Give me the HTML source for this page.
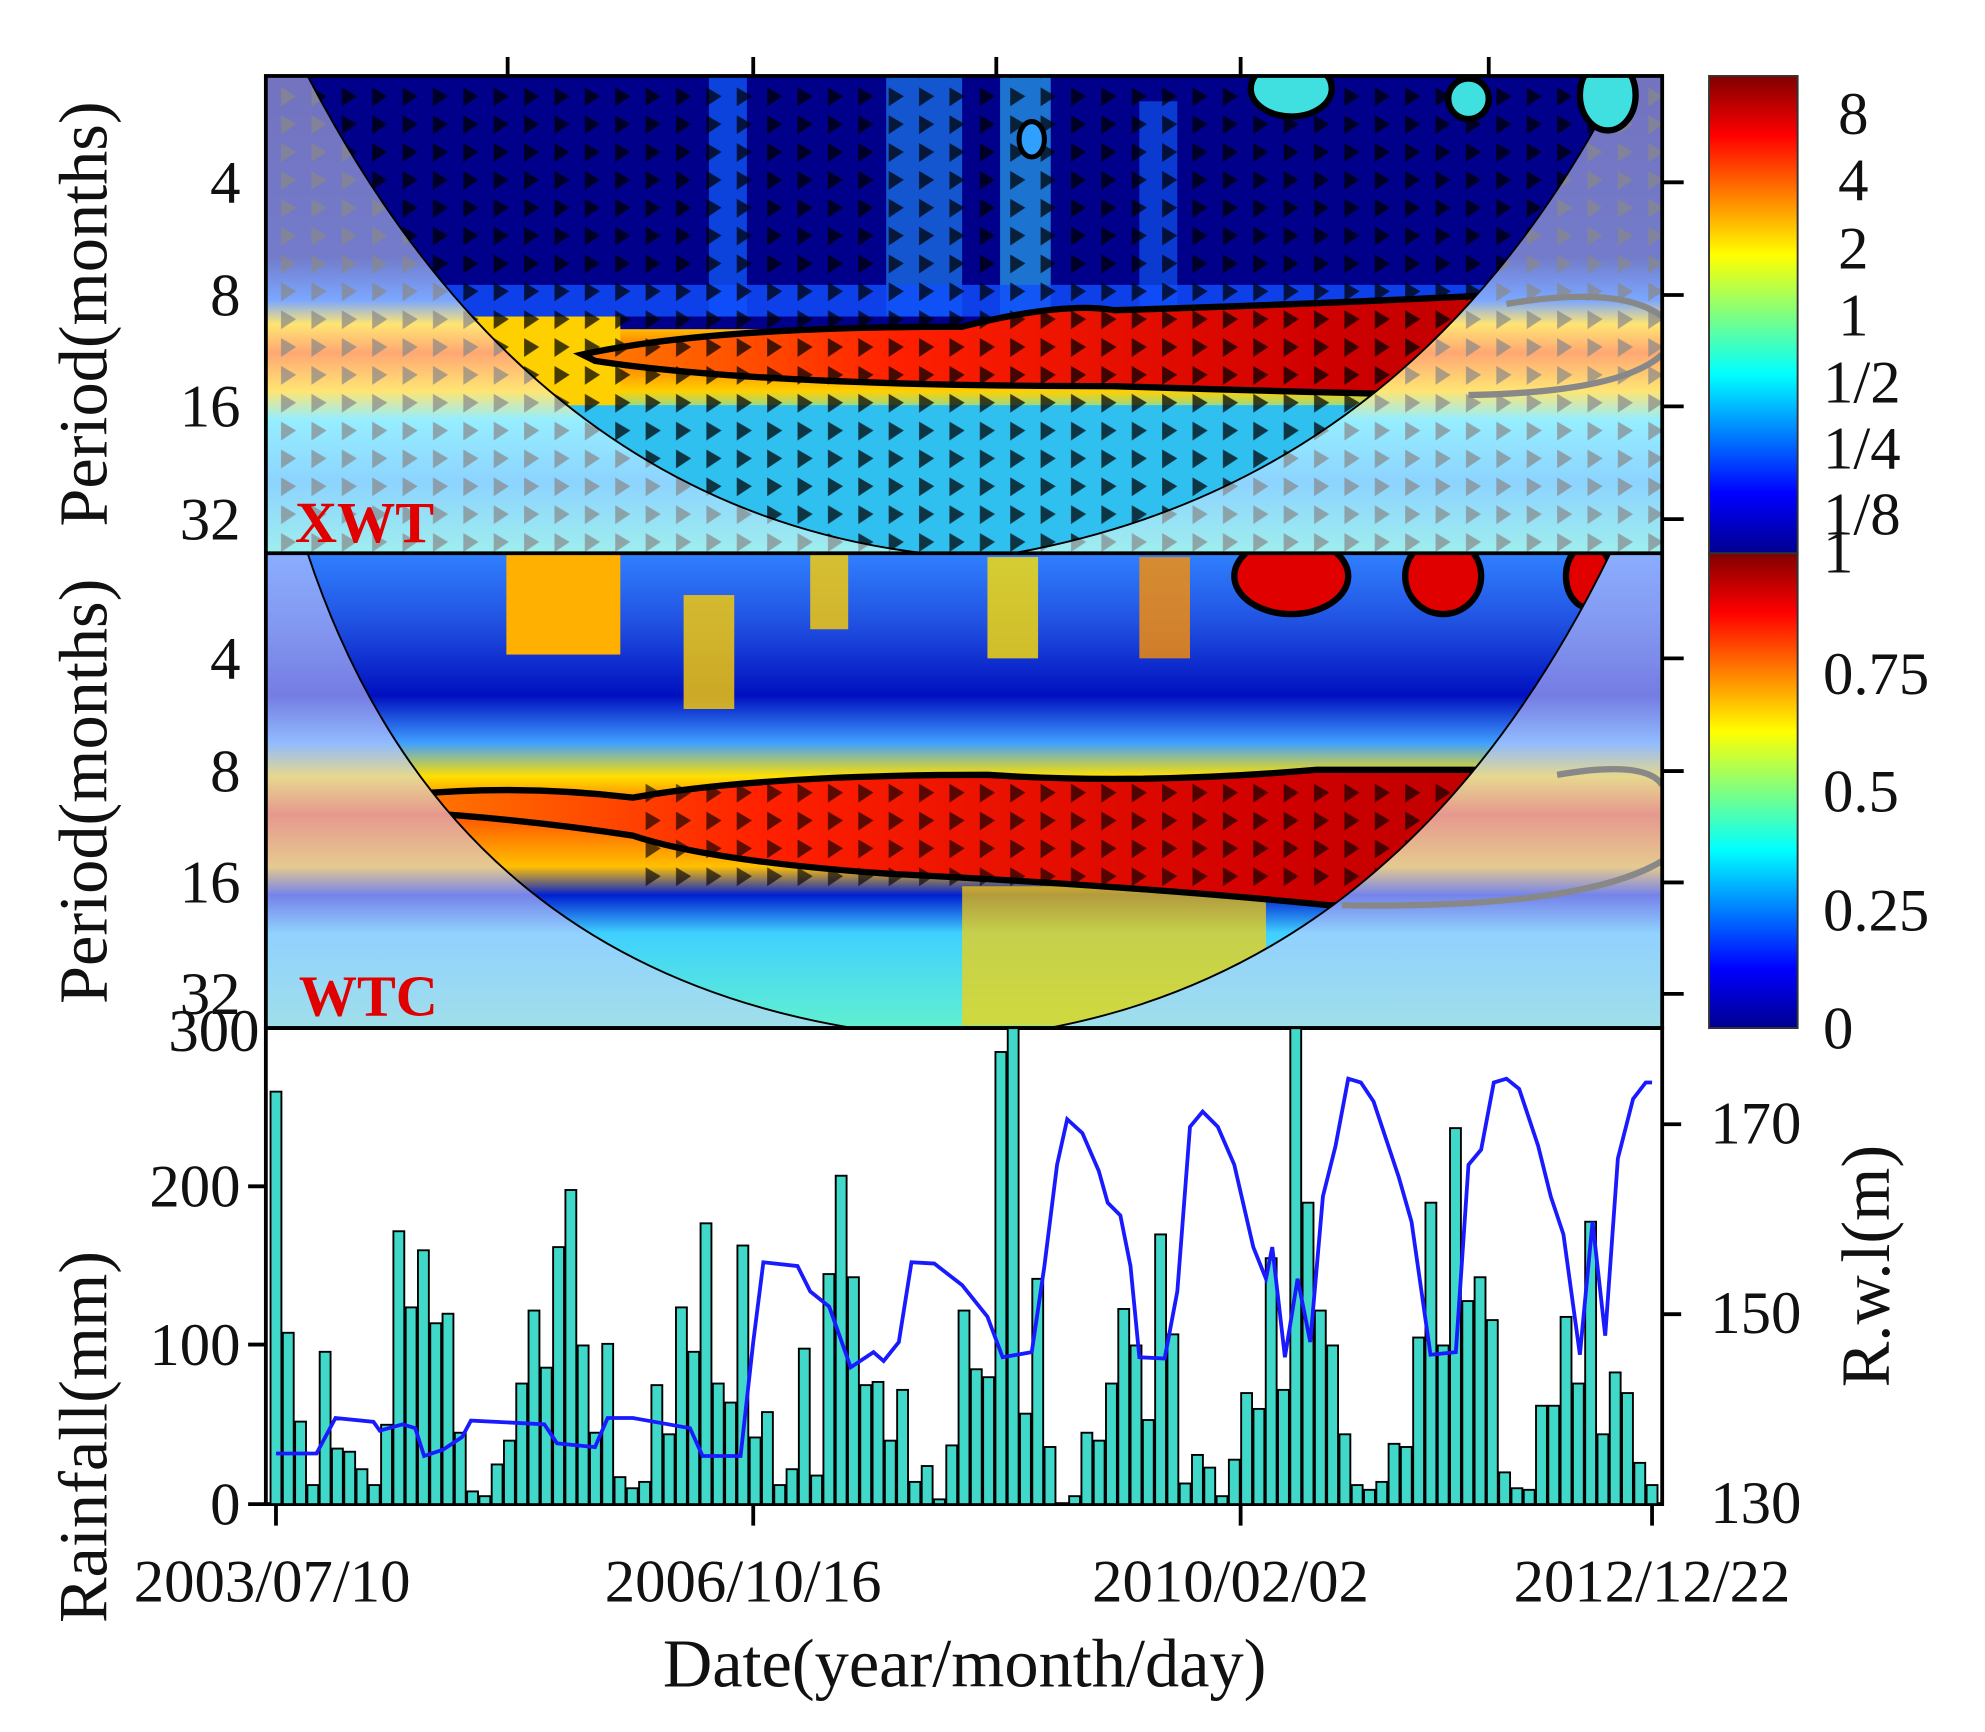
<!DOCTYPE html>
<html><head><meta charset="utf-8"><style>
html,body{margin:0;padding:0;background:#fff;}
svg{display:block;}
text{font-family:"Liberation Serif",serif;fill:#111;}
</style></head><body>
<svg id="s" width="1985" height="1732" viewBox="0 0 1568 1368" preserveAspectRatio="none" xmlns="http://www.w3.org/2000/svg">
<defs>
<linearGradient id="jet" x1="0" y1="1" x2="0" y2="0">
<stop offset="0" stop-color="#00008f"/><stop offset="0.125" stop-color="#0000ff"/>
<stop offset="0.375" stop-color="#00ffff"/><stop offset="0.625" stop-color="#ffff00"/>
<stop offset="0.875" stop-color="#ff0000"/><stop offset="1" stop-color="#800000"/>
</linearGradient>
<linearGradient id="xbg" x1="0" y1="60" x2="0" y2="437" gradientUnits="userSpaceOnUse">
<stop offset="0" stop-color="#00008a"/><stop offset="0.38" stop-color="#0010a0"/>
<stop offset="0.47" stop-color="#1060ff"/><stop offset="0.52" stop-color="#ffd000"/>
<stop offset="0.58" stop-color="#ff6000"/><stop offset="0.66" stop-color="#ffd000"/>
<stop offset="0.72" stop-color="#40e0ff"/><stop offset="0.85" stop-color="#30b0ff"/>
<stop offset="1" stop-color="#50e0e0"/>
</linearGradient>
<linearGradient id="wbg" x1="0" y1="437" x2="0" y2="812" gradientUnits="userSpaceOnUse">
<stop offset="0" stop-color="#3080ff"/><stop offset="0.15" stop-color="#2050e0"/>
<stop offset="0.3" stop-color="#0010c0"/><stop offset="0.4" stop-color="#40a0ff"/>
<stop offset="0.47" stop-color="#ffe000"/><stop offset="0.55" stop-color="#ff5000"/>
<stop offset="0.66" stop-color="#ffc000"/><stop offset="0.72" stop-color="#0020d0"/>
<stop offset="0.8" stop-color="#40d0ff"/><stop offset="1" stop-color="#60f0d0"/>
</linearGradient>
<linearGradient id="redband" x1="0" y1="0" x2="1" y2="0">
<stop offset="0" stop-color="#ff8000"/><stop offset="0.3" stop-color="#ff2000"/>
<stop offset="0.7" stop-color="#d00000"/><stop offset="1" stop-color="#b00000"/>
</linearGradient>
<pattern id="arr" x="0" y="0" width="24" height="22" patternUnits="userSpaceOnUse">
<polygon points="6,3 18,10 6,18" fill="#000" opacity="0.9"/>
</pattern>
<pattern id="garr" x="0" y="0" width="24" height="22" patternUnits="userSpaceOnUse">
<polygon points="6,3 18,10 6,18" fill="#888"/>
</pattern>
<clipPath id="cx"><rect x="210" y="60" width="1103" height="377"/></clipPath>
<clipPath id="cw"><rect x="210" y="437" width="1103" height="375"/></clipPath>
<clipPath id="conex"><path d="M243,60 Q420,400 730,437 L800,437 Q1120,380 1282,60 Z"/></clipPath>
<clipPath id="conew"><path d="M243,437 Q360,790 740,820 L770,820 Q1100,790 1272,437 Z"/></clipPath>
</defs>

<!-- XWT -->
<g clip-path="url(#cx)">
<rect x="210" y="60" width="1103" height="377" fill="url(#xbg)"/>
<g clip-path="url(#conex)">
<rect x="210" y="60" width="1103" height="200" fill="#00008a"/>
<rect x="560" y="60" width="30" height="190" fill="#1060ff" opacity="0.7"/>
<rect x="700" y="60" width="60" height="190" fill="#2090ff" opacity="0.6"/>
<rect x="790" y="60" width="40" height="190" fill="#30c0ff" opacity="0.6"/>
<rect x="900" y="80" width="30" height="170" fill="#1060ff" opacity="0.6"/>
<rect x="210" y="225" width="1103" height="25" fill="#1050ff" opacity="0.8"/>
<rect x="210" y="320" width="1103" height="117" fill="#30c0f0"/>
<rect x="210" y="250" width="280" height="70" fill="#ffd000"/>
<path d="M460,280 Q560,258 760,258 Q840,238 880,245 Q1050,240 1200,232 L1290,232 L1290,315 Q1100,312 880,305 Q600,305 470,285 Z" fill="url(#redband)" stroke="#000" stroke-width="5"/>
<rect x="210" y="60" width="1103" height="377" fill="url(#arr)" opacity="0.8"/>
</g>
<path d="M210,60 H1313 V437 H210 Z M243,60 Q420,400 730,437 L800,437 Q1120,380 1282,60 Z" fill-rule="evenodd" fill="#ffffff" opacity="0.45"/>
<path d="M210,60 H1313 V437 H210 Z M243,60 Q420,400 730,437 L800,437 Q1120,380 1282,60 Z" fill-rule="evenodd" fill="url(#garr)" opacity="0.7"/>
<path d="M243,60 Q420,400 730,437 L800,437 Q1120,380 1282,60" fill="none" stroke="#000" stroke-width="1.5"/>
<path d="M1190,240 Q1280,225 1313,250 M1160,312 Q1280,310 1313,280" fill="none" stroke="#888" stroke-width="5"/>
<circle cx="1160" cy="78" r="16" fill="#40e0e0" stroke="#000" stroke-width="5"/>
<ellipse cx="1020" cy="70" rx="32" ry="22" fill="#40e0e0" stroke="#000" stroke-width="5"/>
<ellipse cx="815" cy="110" rx="10" ry="14" fill="#30a0ff" stroke="#000" stroke-width="4"/>
<ellipse cx="1270" cy="75" rx="22" ry="28" fill="#40e0e0" stroke="#000" stroke-width="5"/>
</g>

<!-- WTC -->
<g clip-path="url(#cw)">
<rect x="210" y="437" width="1103" height="375" fill="url(#wbg)"/>
<g clip-path="url(#conew)">
<rect x="400" y="437" width="90" height="80" fill="#ffb000"/>
<rect x="540" y="470" width="40" height="90" fill="#ffd000" opacity="0.8"/>
<rect x="640" y="437" width="30" height="60" fill="#ffd000" opacity="0.8"/>
<rect x="780" y="440" width="40" height="80" fill="#ffe000" opacity="0.8"/>
<rect x="900" y="440" width="40" height="80" fill="#ff9000" opacity="0.8"/>
<ellipse cx="1020" cy="455" rx="45" ry="30" fill="#e00000" stroke="#000" stroke-width="5"/>
<ellipse cx="1140" cy="455" rx="30" ry="30" fill="#e00000" stroke="#000" stroke-width="5"/>
<ellipse cx="1255" cy="455" rx="18" ry="25" fill="#e00000" stroke="#000" stroke-width="5"/>
<rect x="760" y="700" width="240" height="110" fill="#ffd000" opacity="0.7"/>
<path d="M300,630 Q400,618 500,630 Q600,612 780,612 Q900,620 1040,608 L1313,608 L1313,720 Q1150,712 1050,715 Q900,700 700,690 Q560,680 500,660 Q400,645 300,640 Z" fill="url(#redband)" stroke="#000" stroke-width="5"/>
<rect x="500" y="612" width="800" height="95" fill="url(#arr)" opacity="0.7"/>
</g>
<path d="M210,437 H1313 V812 H210 Z M243,437 Q360,790 740,820 L770,820 Q1100,790 1272,437 Z" fill-rule="evenodd" fill="#ffffff" opacity="0.45"/>
<path d="M210,437 H1313 V812 H210 Z M243,437 Q360,790 740,820 L770,820 Q1100,790 1272,437 Z" fill-rule="evenodd" fill="#8080ff" opacity="0.2"/>
<path d="M243,437 Q360,790 740,820 L770,820 Q1100,790 1272,437" fill="none" stroke="#000" stroke-width="1.5"/>
<path d="M1230,612 Q1300,600 1313,620 M1060,715 Q1250,718 1313,680" fill="none" stroke="#888" stroke-width="5"/>
</g>

<!-- frames -->
<rect x="210" y="60" width="1103" height="752" fill="none" stroke="#000" stroke-width="3"/>
<line x1="210" y1="437" x2="1313" y2="437" stroke="#000" stroke-width="3"/>
<rect x="210" y="812" width="1103" height="376" fill="none" stroke="#000" stroke-width="3"/>
<g stroke="#000" stroke-width="3">
<line x1="401" y1="45" x2="401" y2="60"/><line x1="595" y1="45" x2="595" y2="60"/>
<line x1="787" y1="45" x2="787" y2="60"/><line x1="980" y1="45" x2="980" y2="60"/><line x1="1176" y1="45" x2="1176" y2="60"/>
<line x1="1313" y1="144" x2="1330" y2="144"/><line x1="1313" y1="233" x2="1330" y2="233"/><line x1="1313" y1="321" x2="1330" y2="321"/><line x1="1313" y1="410" x2="1330" y2="410"/>
<line x1="1313" y1="520" x2="1330" y2="520"/><line x1="1313" y1="609" x2="1330" y2="609"/><line x1="1313" y1="697" x2="1330" y2="697"/><line x1="1313" y1="785" x2="1330" y2="785"/>
<line x1="196" y1="1188" x2="210" y2="1188"/><line x1="196" y1="1062" x2="210" y2="1062"/><line x1="196" y1="937" x2="210" y2="937"/>
<line x1="218" y1="1188" x2="218" y2="1205"/><line x1="595" y1="1188" x2="595" y2="1205"/><line x1="980" y1="1188" x2="980" y2="1205"/><line x1="1305" y1="1188" x2="1305" y2="1205"/>
<line x1="1313" y1="888" x2="1328" y2="888"/><line x1="1313" y1="1038" x2="1328" y2="1038"/>
</g>
<g id="bars"></g>
<polyline fill="none" stroke="#1a1aff" stroke-width="3" points="218,1148 250,1148 265,1120 295,1123 300,1130 318,1125 328,1128 335,1150 350,1145 365,1135 372,1122 430,1125 440,1140 470,1143 480,1120 500,1120 545,1128 555,1150 585,1150 595,1060 603,997 630,1000 640,1020 655,1032 672,1080 690,1068 698,1075 710,1060 720,997 738,998 760,1015 780,1040 792,1072 815,1068 825,1000 835,920 843,884 855,895 868,925 875,950 885,960 893,1000 900,1072 920,1073 930,1020 940,890 950,878 962,890 975,920 990,985 1000,1010 1005,985 1015,1072 1025,1010 1035,1060 1045,945 1055,905 1065,852 1075,855 1085,870 1095,900 1105,930 1115,965 1130,1070 1150,1068 1160,920 1170,908 1180,855 1190,852 1200,860 1215,905 1225,945 1235,975 1248,1070 1258,965 1268,1055 1278,915 1290,868 1300,855 1305,855"/>

<!-- colorbars -->
<rect x="1350" y="60" width="70" height="377" fill="url(#jet)" stroke="#333" stroke-width="1.5"/>
<rect x="1350" y="437" width="70" height="375" fill="url(#jet)" stroke="#333" stroke-width="1.5"/>

<g font-size="48">
<text x="1452" y="106">8</text><text x="1452" y="158">4</text><text x="1452" y="212">2</text>
<text x="1452" y="265">1</text><text x="1440" y="318">1/2</text><text x="1440" y="370">1/4</text><text x="1440" y="422">1/8</text>
<text x="1440" y="452">1</text><text x="1440" y="548">0.75</text><text x="1440" y="641">0.5</text>
<text x="1440" y="735">0.25</text><text x="1440" y="828">0</text>
<text x="1351" y="903">170</text><text x="1351" y="1053">150</text><text x="1351" y="1203">130</text>
<g text-anchor="end">
<text x="190" y="160">4</text><text x="190" y="249">8</text><text x="190" y="337">16</text><text x="190" y="426">32</text>
<text x="190" y="536">4</text><text x="190" y="625">8</text><text x="190" y="713">16</text><text x="190" y="801">32</text>
<text x="205" y="830">300</text><text x="190" y="953">200</text><text x="190" y="1078">100</text><text x="190" y="1204">0</text>
</g>
<g text-anchor="middle">
<text x="215" y="1265">2003/07/10</text><text x="587" y="1265">2006/10/16</text>
<text x="972" y="1265">2010/02/02</text><text x="1305" y="1265">2012/12/22</text>
</g>
<g text-anchor="middle" font-size="54">
<text x="762" y="1332">Date(year/month/day)</text>
<text transform="translate(84,248) rotate(-90)">Period(months)</text>
<text transform="translate(84,625) rotate(-90)">Period(months)</text>
<text transform="translate(84,1135) rotate(-90)">Rainfall(mm)</text>
<text transform="translate(1492,1000) rotate(-90)">R.w.l(m)</text>
</g>
</g>
<g font-size="46" font-weight="bold">
<text x="233" y="428" style="fill:#e00000">XWT</text>
<text x="236" y="802" style="fill:#e00000">WTC</text>
</g>
</svg>
<script>
var v=[260,108,52,12,96,35,33,22,12,50,172,124,160,114,120,45,8,5,25,40,76,122,86,162,198,100,45,101,17,10,14,75,44,124,96,177,76,64,163,42,58,12,22,98,18,145,207,143,75,77,40,72,14,24,3,37,122,85,80,285,320,57,142,36,0,5,45,40,76,123,100,53,170,107,13,31,23,5,28,70,60,155,72,310,190,122,100,44,12,9,14,38,36,105,190,100,237,128,143,116,20,10,9,62,62,118,76,178,44,83,70,26,12];
var g=document.getElementById('bars'),ns='http://www.w3.org/2000/svg',dx=(1305-218)/(v.length-1);
for(var i=0;i<v.length;i++){var h=Math.min(v[i],300)*1.253;if(h<=0)continue;var r=document.createElementNS(ns,'rect');
r.setAttribute('x',218+i*dx-4.3);r.setAttribute('y',1188-h);r.setAttribute('width',8.6);r.setAttribute('height',h);
r.setAttribute('fill','#40d8c8');r.setAttribute('stroke','#000');r.setAttribute('stroke-width','1.5');g.appendChild(r);}
</script>
</body></html>
